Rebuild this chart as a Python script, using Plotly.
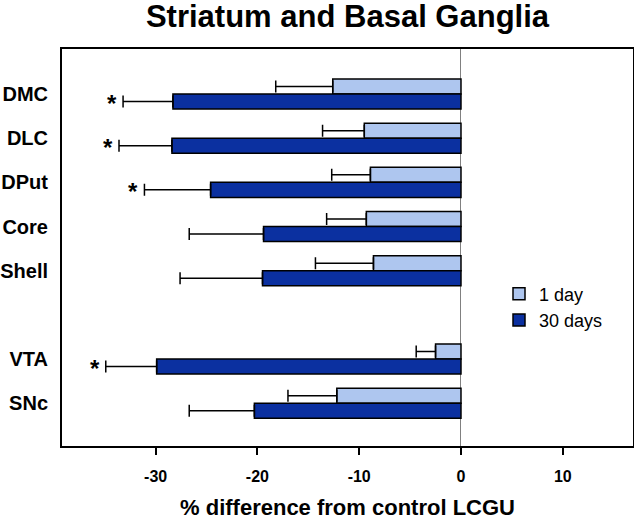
import plotly.graph_objects as go

regions = ["DMC", "DLC", "DPut", "Core", "Shell", " ", "VTA", "SNc"]
series_names = ["1 day", "30 days"]
day1 = [-12.6, -9.5, -8.9, -9.3, -8.6, None, -2.5, -12.2]
day1_err = [5.6, 4.1, 3.8, 3.9, 5.7, None, 1.9, 4.8]
day30 = [-28.3, -28.4, -24.6, -19.4, -19.5, None, -29.9, -20.3]
day30_err = [4.9, 5.2, 6.5, 7.3, 8.1, None, 5.0, 6.4]
sig30 = [True, True, True, False, False, False, True, False]
x_ticks = [-30, -20, -10, 0, 10]

LIGHT = "#aec6ef"
DARK = "#0b30a0"
FONT = "Liberation Sans, Arial, sans-serif"

fig = go.Figure()

def zeros(err):
    return [0 if e is not None else None for e in err]

fig.add_trace(go.Bar(
    name=series_names[0], y=regions, x=day1, orientation="h",
    offset=-0.34, width=0.34,
    marker=dict(color=LIGHT, line=dict(color="black", width=1.5)),
    error_x=dict(type="data", symmetric=False, array=zeros(day1_err),
                 arrayminus=day1_err, color="black", thickness=1.5, width=6),
))
fig.add_trace(go.Bar(
    name=series_names[1], y=regions, x=day30, orientation="h",
    offset=0, width=0.34,
    marker=dict(color=DARK, line=dict(color="black", width=1.5)),
    error_x=dict(type="data", symmetric=False, array=zeros(day30_err),
                 arrayminus=day30_err, color="black", thickness=1.5, width=6),
))

for r, v, e, s in zip(regions, day30, day30_err, sig30):
    if s:
        fig.add_annotation(x=v - e, y=r, text="<b>*</b>", showarrow=False,
                           xanchor="right", yanchor="middle", xshift=-4, yshift=-9,
                           font=dict(size=24, color="black", family=FONT))

fig.update_layout(
    width=634, height=520,
    margin=dict(l=62, r=1, t=49, b=74, autoexpand=False),
    paper_bgcolor="white", plot_bgcolor="white",
    barmode="overlay",
    font=dict(family=FONT, color="black"),
    title=dict(text="<b>Striatum and Basal Ganglia</b>", x=0.5, xref="paper", xanchor="center",
               y=1 - 5 / 520, yanchor="top", yref="container", pad=dict(t=0),
               font=dict(size=31, family=FONT, color="black")),
    showlegend=True,
    legend=dict(x=(499 - 62) / 571, xanchor="left", y=1 - (307 - 49) / 397, yanchor="middle",
                bgcolor="rgba(0,0,0,0)", font=dict(size=18, family=FONT, color="black"),
                traceorder="normal"),
)

fig.update_xaxes(
    automargin=False,
    range=[-39.2, 16.9], tickvals=x_ticks, ticktext=[f"<b>{t}</b>" for t in x_ticks],
    ticks="outside", ticklen=7, tickwidth=1.5, tickcolor="black",
    tickfont=dict(size=16, family=FONT, color="black"), ticklabelstandoff=8,
    showline=True, linecolor="black", linewidth=2, mirror=True,
    showgrid=False, zeroline=True, zerolinecolor="#808080", zerolinewidth=1,
    title=dict(text="<b>% difference from control LCGU</b>", font=dict(size=22, family=FONT, color="black"),
               standoff=20),
)
fig.update_yaxes(
    automargin=False,
    categoryorder="array", categoryarray=regions,
    range=[7.97, -1.02], tickvals=regions, ticktext=[f"<b>{r}</b>" for r in regions],
    ticks="", tickfont=dict(size=20, family=FONT, color="black"), ticklabelstandoff=8,
    showline=True, linecolor="black", linewidth=2, mirror=True,
    showgrid=False, zeroline=False,
)

fig.write_html("out.html", config={"displayModeBar": False},
               post_script="document.body.style.margin='0';")
